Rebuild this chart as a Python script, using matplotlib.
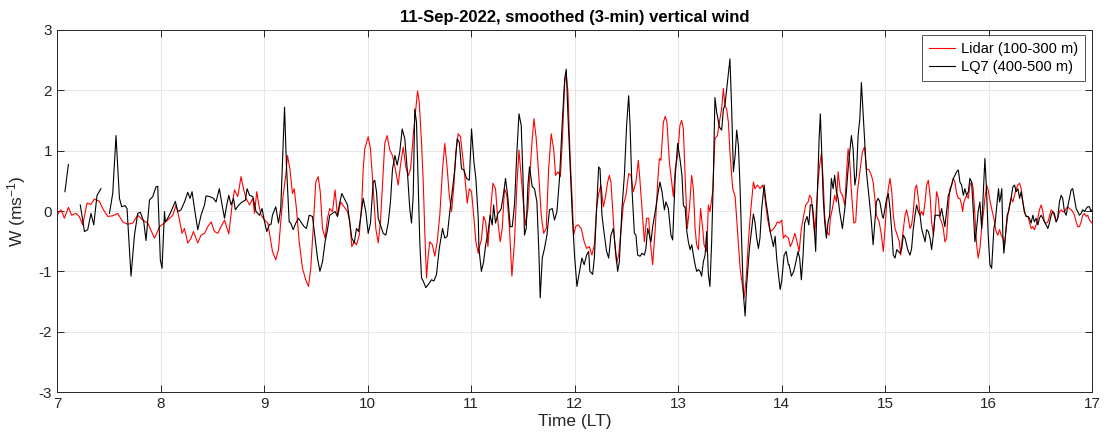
import numpy as np
import matplotlib as mpl
import matplotlib.pyplot as plt

mpl.use('Agg')

# (minutes after 07:00 LT, W in m/s)
lidar_pts = [
    (0, -0.07), (2.3, 0.02), (4.3, -0.12), (6.6, 0.06), (8.5, -0.07), (11, -0.04), (12.9, -0.09),
    (14.9, -0.23), (17.4, 0.13), (19.7, 0.11), (21.7, 0.2), (24.6, 0.16), (26.5, 0.04), (29.4, -0.09),
    (32.3, -0.08), (35.2, -0.04), (38.1, -0.18), (41, -0.22), (43.9, -0.2), (46.8, -0.07), (49.7, -0.15),
    (52.6, -0.2), (56.5, -0.45),
    (57.4, -0.40), (59.4, -0.26), (61.3, -0.22), (64.2, -0.15), (67.1, -0.07), (69.0, 0.10), (70.6, -0.09),
    (72.5, -0.37), (73.9, -0.29), (75.8, -0.53), (77.7, -0.45), (79.1, -0.34), (81.6, -0.53), (83.5, -0.40),
    (85.5, -0.37), (87.4, -0.26), (89.3, -0.18), (91.3, -0.34), (93.2, -0.37), (95.1, -0.26), (97.1, -0.15),
    (99.6, -0.38), (101.5, 0.10), (102.9, 0.35), (104.8, 0.24), (106.7, 0.57), (108.1, 0.37), (109.6, 0.21),
    (111.6, 0.10), (113.5, 0.21), (114.5, -0.04), (115.8, 0.32), (117.0, 0.10), (118.3, -0.07), (120.3, -0.15),
    (122.2, -0.20),
    (124.9, -0.67), (126.8, -0.81), (128.4, -0.64), (129.7, -0.18), (131.1, 0.26), (132.6, 0.59), (133.6, 0.92),
    (135.0, 0.70), (136.5, 0.29), (137.5, 0.37), (138.8, 0.04), (140.4, -0.51), (142.3, -0.95), (144.2, -1.14),
    (145.8, -1.25), (147.1, -0.95), (148.5, -0.29), (150.0, 0.48), (151.4, 0.57), (152.6, 0.32), (153.9, -0.29),
    (155.4, -0.45), (156.8, -0.12), (158.1, 0.04), (159.7, -0.01), (161.2, 0.35), (162.6, -0.09), (164.5, 0.15),
    (166.4, 0.07), (168.4, -0.01), (169.7, -0.18), (170.9, -0.59), (172.3, -0.51), (173.6, -0.56), (175.2, -0.40),
    (176.7, 0.15),
    (177.5, 0.70), (178.4, 1.03), (180.4, 1.23), (181.7, 1.03), (183.3, 0.37), (184.8, -0.29), (186.2, -0.53),
    (187.5, -0.18), (188.7, 0.43), (190.0, 1.12), (191.4, 1.25), (192.9, 1.01), (194.5, 0.92), (195.9, 0.73),
    (197.8, 0.43), (199.1, 0.76), (200.7, 1.06), (202.2, 0.73), (203.6, 0.59), (205.0, 0.70), (206.5, 1.25),
    (208.0, 1.69), (209.0, 1.99), (210.0, 1.80), (211.3, 1.14), (212.3, 0.48), (213.2, -0.34), (214.2, -1.11),
    (215.2, -0.73), (216.1, -0.51), (217.6, -0.56), (219.0, -0.75), (220.4, -0.51), (221.9, -0.07), (223.5, 0.70),
    (224.8, 1.12), (226.2, 0.70), (227.4, 0.26), (228.7, -0.01), (230.1, 0.43), (231.2, 0.98), (232.6, 1.28),
    (233.9, 1.23), (235.1, 0.92), (236.5, 0.54), (237.8, 0.13), (239.0, 0.37), (240.3, 0.32), (241.7, -0.12),
    (242.8, -0.51), (244.2, -0.70),
    (244.6, -0.62), (246.0, -0.48), (247.3, -0.09), (248.5, -0.18), (249.8, -0.59), (251.1, -0.07), (252.7, 0.46),
    (254.2, 0.37), (255.6, -0.18), (256.9, -0.51), (258.1, -0.29), (259.4, 0.37), (260.8, 0.26), (262.3, -0.29),
    (263.7, -1.08), (265.2, -0.51), (266.6, 0.43), (267.8, 1.01), (268.7, 0.70), (270.1, 0.21), (271.6, -0.23),
    (273.0, 0.04), (274.3, 0.70), (275.5, 1.20), (276.5, 1.53), (277.8, 1.20), (279.4, 0.54), (280.7, -0.07),
    (282.1, -0.37), (283.6, -0.29), (285.0, 0.70), (286.5, 1.28), (287.9, 1.03), (289.0, 0.59), (290.4, 0.65),
    (291.8, 0.57), (292.9, 1.14), (294.3, 2.13), (295.2, 2.27), (296.2, 1.97), (297.5, 0.87), (298.7, 0.15),
    (299.5, -0.40), (300.6, -0.26), (302.0, -0.23), (303.9, -0.29),
    (305.6, -0.51), (307.0, -0.62), (308.6, -0.59), (310.1, -0.73), (311.5, -0.56), (312.8, 0.04), (314.0, 0.29),
    (315.3, 0.43), (316.7, 0.07), (317.8, 0.21), (319.2, 0.48), (320.2, 0.59), (321.1, 0.48), (322.1, 0.04),
    (323.5, -0.62), (324.4, -0.86), (325.6, -0.73), (327.0, -0.29), (328.3, 0.10), (329.8, 0.26), (331.4, 0.62),
    (332.7, 0.59), (334.1, 0.32), (335.6, 0.48), (337.0, 0.84), (338.0, 0.48), (339.1, 0.04), (340.5, -0.51),
    (341.8, -0.12), (343.0, -0.12), (343.9, -0.51), (345.3, -0.89), (346.8, -0.29), (348.2, 0.48), (349.2, 0.87),
    (350.1, 0.84), (351.5, 1.47), (352.6, 1.57), (353.6, 1.47), (355.0, 0.81), (356.5, 0.43), (357.3, 0.24),
    (358.4, 0.70), (359.8, 0.92),
    (361.1, 1.42), (362.1, 1.50), (363.1, 1.36), (364.1, 0.59), (365.4, -0.29), (366.6, 0.04), (367.9, 0.59),
    (368.9, 0.37), (369.9, -0.29), (370.8, -0.56), (371.8, -0.64), (373.1, 0.04), (374.3, -0.29), (375.1, -0.56),
    (376.6, -0.67), (377.6, 0.10), (378.5, -0.01), (380.1, 0.32), (381.4, 1.20), (382.8, 1.25), (384.3, 1.53),
    (385.3, 1.69), (386.3, 2.03), (387.2, 1.75), (388.2, 1.69), (389.2, 1.47), (390.1, 0.98), (391.7, 0.37),
    (393.1, 0.24), (394.4, -0.29), (396.0, -0.95), (397.5, -1.27), (398.3, -1.44), (399.4, -1.16), (400.8, -0.51),
    (402.1, -0.01), (403.7, 0.48), (404.6, 0.37), (406.0, 0.43), (407.5, 0.37), (409.1, 0.43), (410.4, 0.21),
    (411.8, -0.12), (413.4, -0.34), (414.9, -0.31), (416.3, -0.26), (417.6, -0.18), (418.8, -0.20), (420.1, -0.15),
    (421.1, -0.45), (422.1, -0.40), (424.0, -0.45),
    (425.1, -0.59), (426.3, -0.51), (427.7, -0.37), (429.0, -0.51), (430.2, -0.67), (431.5, -0.29), (432.9, -0.07),
    (434.0, 0.10), (435.4, 0.15), (436.3, 0.26), (437.3, 0.21), (438.3, -0.12), (439.2, -0.40), (440.2, 0.04),
    (441.2, 0.48), (442.1, 0.76), (443.1, 0.95), (444.1, 0.54), (445.0, -0.07), (446.0, -0.34), (447.6, -0.40),
    (448.3, -0.12), (449.5, 0.04), (450.8, 0.26), (451.8, 0.15), (452.8, 0.65), (454.1, 0.32), (455.3, 0.26),
    (456.7, 0.10), (457.6, 0.59), (458.6, 1.03), (459.6, 0.81), (460.5, 0.32), (461.9, -0.20), (463.0, -0.18),
    (464.0, 0.32), (465.4, 0.65), (466.9, 0.98), (468.1, 1.06), (469.2, 0.70), (470.8, 0.68), (472.1, 0.59),
    (473.1, 0.48), (474.1, 0.21), (475.0, -0.07), (476.6, -0.18), (477.9, -0.40),
    (479.0, -0.67), (480.0, -0.29), (481.0, 0.15), (481.9, 0.37), (482.9, 0.54), (483.9, 0.32), (484.8, -0.07),
    (485.8, -0.29), (487.1, -0.40), (488.3, -0.51), (489.1, -0.73), (490.2, -0.40), (491.6, -0.07), (492.5, 0.02),
    (493.5, -0.12), (494.5, -0.29), (495.4, -0.23), (496.4, -0.01), (497.4, 0.37), (498.3, 0.43), (499.3, 0.21),
    (500.3, -0.07), (501.2, -0.01), (502.2, -0.07), (503.2, 0.15), (504.1, 0.43), (505.1, 0.51), (506.1, 0.26),
    (507.0, -0.18), (508.0, -0.40), (509.0, -0.07), (509.9, 0.32), (510.9, 0.21), (511.8, -0.12), (512.8, -0.18),
    (513.8, -0.29), (514.7, -0.51), (515.7, -0.45), (516.7, 0.04), (517.6, 0.37), (518.6, 0.43), (519.6, 0.54),
    (520.5, 0.48), (521.5, 0.29), (522.5, 0.21), (523.4, 0.21), (524.4, 0.10), (525.0, -0.01), (525.7, 0.15),
    (527.3, 0.26), (528.3, 0.21), (529.2, 0.43), (530.2, 0.48), (531.1, 0.37), (532.1, -0.07), (533.1, -0.56),
    (534.0, -0.78), (535.0, -0.62), (536.0, -0.29), (536.9, -0.07), (537.9, 0.21), (538.9, 0.43), (539.8, 0.35),
    (540.8, 0.18), (541.8, 0.04),
    (543.5, -0.18), (544.4, -0.34), (545.4, -0.40), (546.4, -0.31), (547.3, -0.40), (548.3, -0.45), (549.3, -0.56),
    (550.2, -0.29), (551.2, -0.07), (552.2, 0.10), (553.1, 0.21), (554.1, 0.15), (555.1, 0.26), (556.0, 0.37),
    (557.0, 0.43), (558.0, 0.46), (558.9, 0.37), (559.9, 0.15), (560.8, -0.01), (561.8, -0.09), (562.8, -0.09),
    (563.7, -0.18), (564.7, -0.29), (565.7, -0.26), (566.6, -0.31), (567.6, -0.23), (568.6, -0.12), (569.5, 0.02),
    (570.5, 0.10), (571.5, -0.01), (572.4, -0.18), (573.4, -0.20), (574.4, -0.18), (575.3, -0.09), (576.3, 0.02),
    (577.2, -0.01), (578.2, -0.09), (579.2, -0.18), (580.1, -0.12), (581.1, -0.01), (582.1, 0.02), (583.0, -0.01),
    (584.0, -0.01), (585.0, 0.04), (585.9, 0.07), (586.9, 0.04), (587.9, 0.02), (588.8, -0.01), (589.8, -0.07),
    (590.8, -0.18), (591.7, -0.26), (592.7, -0.26), (593.7, -0.18), (594.6, -0.07), (595.6, -0.04), (596.6, -0.09),
    (597.5, -0.07), (598.5, -0.15), (599.4, -0.18), (600.0, -0.20),
]

nan = float('nan')
lq7_pts = [
    (4.6, 0.32), (6.6, 0.77), (7.0, nan),
    (13.5, 0.10), (15.9, -0.34), (17.8, -0.31), (19.7, -0.04), (21.3, -0.23), (23.2, 0.26), (25.5, 0.37),
    (27.0, nan),
    (30.4, -0.04), (32.3, 0.29), (34.2, 1.25), (36.2, 0.21), (37.5, 0.07), (39.4, 0.09), (40.6, 0.04),
    (42.9, -1.08), (44.9, -0.40), (46.8, -0.04), (48.3, -0.02), (50.3, -0.18), (51.6, -0.49), (53.6, 0.18),
    (55.5, 0.24), (57.4, 0.40), (58.4, 0.41), (59.9, -0.81), (60.9, -0.95), (62.3, -0.01),
    (62.8, -0.18), (64.2, -0.12), (66.1, -0.01), (68.6, 0.16), (70.0, -0.01), (71.9, 0.02), (73.9, 0.15),
    (75.8, 0.31), (77.1, 0.21), (78.3, 0.32), (79.7, 0.04), (81.6, -0.31), (83.5, -0.07), (85.5, 0.10),
    (86.4, 0.25), (88.4, 0.24), (90.7, 0.21), (92.2, 0.15), (94.1, 0.37), (95.7, 0.10), (97.1, -0.12),
    (98.4, 0.10), (99.6, 0.26), (100.9, 0.10), (102.3, 0.21), (103.4, 0.02), (105.4, 0.10), (107.3, 0.15),
    (109.2, 0.18), (110.2, 0.37), (111.6, 0.26), (113.5, 0.24), (115.4, -0.01), (117.4, -0.07), (118.9, 0.04),
    (120.3, -0.18), (121.6, -0.34), (123.2, -0.22), (124.1, -0.22),
    (124.9, -0.07), (126.8, 0.07), (128.4, -0.20), (129.7, 0.04), (131.1, 1.14), (131.9, 1.72), (133.0, 0.76),
    (134.6, -0.18), (135.5, -0.20), (136.9, -0.31), (138.4, -0.20), (140.0, -0.12), (141.3, -0.18), (143.3, -0.26),
    (144.6, -0.29), (146.2, -0.07), (148.1, -0.09), (149.6, -0.45), (151.0, -0.78), (152.4, -1.00), (153.9, -0.84),
    (155.4, -0.51), (156.8, -0.31), (158.1, -0.07), (159.7, -0.04), (161.2, -0.01), (162.6, -0.09), (163.6, 0.10),
    (165.1, 0.29), (166.5, 0.21), (168.4, 0.10), (169.7, -0.18), (170.9, -0.45), (172.3, -0.53), (173.6, -0.29),
    (174.8, -0.34), (176.1, -0.09),
    (177.5, 0.21), (179.0, -0.01), (180.4, -0.37), (181.7, -0.20), (183.3, 0.48), (184.2, 0.51), (185.2, 0.32),
    (186.2, -0.12), (187.5, -0.23), (189.1, -0.37), (190.6, -0.40), (192.0, -0.20), (193.3, 0.15), (194.5, 0.70),
    (195.9, 0.92), (197.2, 0.76), (198.7, 0.98), (200.1, 1.36), (201.6, 1.20), (203.0, 0.70), (204.5, 0.04),
    (205.5, -0.20), (206.5, 0.26), (207.4, 1.69), (208.4, 1.47), (209.4, 0.43), (210.3, -0.51), (211.3, -1.11),
    (212.3, -1.16), (213.8, -1.27), (215.2, -1.22), (217.1, -1.14), (218.5, -1.16), (220.0, -1.05), (221.6, -0.62),
    (223.5, -0.29), (224.8, -0.45), (226.2, -0.42), (227.7, -0.01), (229.3, 0.37), (230.6, 0.70), (232.0, 1.20),
    (233.2, 1.14), (234.5, 0.70), (235.9, 0.68), (237.4, 0.54), (239.0, 0.51), (240.3, 1.36), (241.7, 0.81),
    (242.8, 0.54), (244.2, -0.12),
    (244.6, -0.62), (246.0, -1.00), (247.3, -0.84), (248.5, -0.56), (249.8, -0.37), (251.1, -0.07), (252.3, -0.23),
    (253.1, 0.10), (254.2, -0.20), (255.6, -0.04), (256.5, -0.01), (257.5, 0.04), (258.9, 0.29), (260.0, 0.54),
    (261.4, 0.21), (262.7, -0.26), (263.9, -0.26), (265.2, 0.10), (266.6, 0.98), (267.8, 1.61), (269.1, 1.42),
    (270.1, 0.59), (271.0, -0.40), (272.0, -0.29), (273.0, 0.43), (273.9, 0.73), (275.5, 0.40), (276.8, 0.37),
    (278.2, 0.15), (279.4, -0.73), (280.1, -1.44), (281.3, -0.78), (282.6, -0.62), (284.0, -0.40), (285.5, 0.02),
    (287.1, 0.04), (288.4, -0.15), (289.8, -0.01), (291.3, 0.54), (292.9, 1.47), (294.3, 2.19), (295.2, 2.35),
    (296.2, 1.58), (297.5, 0.70), (298.7, -0.07), (300.0, -0.73), (301.4, -1.25), (302.9, -1.00), (303.9, -0.84),
    (304.3, -0.78), (305.6, -0.89), (307.0, -0.73), (308.2, -0.67), (308.9, -1.00), (310.5, -1.05), (311.5, -0.78),
    (312.8, 0.04), (314.0, 0.73), (314.8, 0.70), (315.9, -0.07), (317.3, -0.40), (318.6, -0.67), (319.8, -0.78),
    (321.1, -0.40), (322.5, -0.29), (323.7, -0.62), (325.0, -1.00), (326.0, -0.84), (327.5, 0.04), (328.9, 0.59),
    (330.2, 1.42), (331.4, 1.91), (332.2, 1.42), (333.3, 0.37), (334.7, -0.37), (335.6, -0.40), (336.6, -0.73),
    (338.0, -0.75), (339.1, -0.70), (340.5, -0.73), (341.4, -0.62), (342.4, -0.29), (343.4, -0.40), (344.3, -0.51),
    (345.3, -0.26), (346.8, -0.01), (348.2, 0.26), (349.5, 0.48), (350.7, 0.32), (352.1, 0.02), (353.0, 0.15),
    (354.4, 0.04), (355.9, -0.40), (356.9, -0.48), (358.4, 0.59), (359.8, 1.12), (361.1, 0.87), (362.3, 0.59),
    (363.1, 0.10), (363.7, 0.07),
    (364.1, 0.07), (365.1, -0.34), (366.0, -0.51), (367.0, -0.64), (368.0, -0.56), (368.9, -0.73), (369.9, -0.89),
    (370.8, -1.00), (371.8, -0.97), (372.8, -1.00), (373.7, -1.08), (374.7, -0.84), (375.7, -0.73), (376.6, -0.34),
    (377.6, -1.05), (378.5, -1.25), (379.5, -0.51), (380.5, 0.59), (381.4, 1.88), (382.4, 1.64), (384.0, 1.39),
    (385.3, 1.34), (386.3, 1.69), (387.2, 1.75), (388.2, 2.02), (389.2, 2.30), (390.1, 2.52), (391.1, 1.69),
    (392.1, 0.65), (393.1, 0.92), (394.0, 1.34), (395.0, 1.09), (396.0, 0.37), (396.9, -0.51), (397.9, -1.38),
    (398.9, -1.74), (399.8, -1.22), (401.4, -0.62), (402.7, -0.29), (403.7, -0.05), (404.6, -0.18), (405.6, -0.45),
    (406.6, -0.62), (407.5, -0.45), (408.5, 0.04), (409.9, 0.43), (411.0, 0.15), (412.4, -0.12), (413.4, -0.34),
    (414.3, -0.45), (415.3, -0.59), (416.3, -0.42), (417.2, -0.78), (418.2, -1.05), (419.2, -1.30), (420.1, -1.16),
    (421.5, -0.73), (422.7, -0.67), (424.0, -0.89),
    (424.4, -0.89), (425.7, -1.08), (427.1, -1.00), (428.2, -0.86), (429.6, -0.67), (430.5, -0.78), (431.5, -1.14),
    (432.5, -0.73), (433.4, -0.20), (434.8, -0.09), (435.8, -0.23), (436.7, 0.10), (437.9, 0.10), (438.8, -0.18),
    (439.8, -0.67), (440.6, 0.15), (441.8, 1.20), (442.5, 1.61), (443.3, 0.98), (444.1, 0.26), (445.0, -0.18),
    (446.0, -0.45), (447.0, -0.18), (447.9, -0.07), (448.9, 0.54), (449.9, 0.37), (450.8, 0.59), (451.8, 0.32),
    (452.8, 0.21), (453.7, -0.01), (455.3, -0.29), (456.7, 0.04), (457.6, 0.32), (458.6, 0.70), (459.6, 0.98),
    (460.5, 1.25), (461.5, 1.03), (462.5, 0.43), (463.4, 0.59), (464.4, 1.25), (465.4, 1.53), (466.3, 2.13),
    (467.7, 1.42), (469.2, 0.65), (470.8, 0.21), (472.1, -0.18), (473.1, -0.56), (474.1, -0.18), (475.0, 0.15),
    (476.0, 0.21), (477.0, 0.15), (478.5, -0.09),
    (479.0, -0.12), (480.0, 0.04), (481.0, 0.21), (481.9, 0.29), (482.9, 0.04), (483.9, -0.34), (484.8, -0.73),
    (485.8, -0.78), (486.8, -0.64), (487.7, -0.67), (488.7, -0.70), (489.7, -0.62), (490.6, -0.40), (491.6, -0.45),
    (492.5, -0.56), (493.5, -0.67), (494.5, -0.73), (495.4, -0.62), (496.4, -0.29), (497.4, -0.07), (498.3, 0.10),
    (499.3, -0.01), (500.3, -0.07), (501.2, -0.29), (502.2, -0.40), (503.2, -0.51), (504.1, -0.31), (505.1, -0.34),
    (506.1, -0.45), (507.0, -0.64), (508.0, -0.40), (509.0, -0.07), (509.9, -0.07), (510.9, -0.07), (511.8, -0.09),
    (512.8, 0.04), (513.8, -0.12), (514.7, -0.26), (515.7, -0.01), (516.7, 0.26), (517.6, 0.32), (518.6, 0.43),
    (519.6, 0.54), (520.5, 0.59), (521.5, 0.65), (522.5, 0.68), (523.4, 0.48), (524.4, 0.43), (525.4, 0.26),
    (526.3, 0.37), (527.3, 0.26), (528.3, 0.32), (529.2, 0.54), (530.2, 0.48), (531.1, 0.04), (532.1, -0.51),
    (533.1, -0.29), (534.0, -0.01), (535.0, 0.15), (536.0, -0.29), (536.9, 0.26), (537.9, 0.87), (538.9, 0.32),
    (539.8, -0.40), (540.8, -0.89), (541.8, -0.95),
    (543.1, -0.29), (543.9, -0.18), (545.0, 0.15), (545.8, 0.37), (546.4, 0.15), (546.9, 0.21), (547.7, 0.37),
    (548.3, -0.40), (548.9, -0.70), (549.7, -0.45), (550.8, -0.07), (551.6, -0.01), (552.7, 0.15), (554.1, 0.40),
    (555.1, 0.43), (556.0, 0.32), (557.0, 0.37), (558.0, 0.21), (558.9, 0.32), (559.9, 0.15), (560.8, -0.01),
    (561.8, -0.09), (562.8, -0.09), (563.7, -0.12), (564.7, -0.20), (565.7, -0.07), (566.6, -0.18), (567.6, -0.12),
    (568.6, -0.23), (569.5, -0.12), (570.5, -0.07), (571.5, -0.12), (572.4, -0.18), (573.4, -0.23), (574.4, -0.29),
    (575.3, -0.20), (576.3, -0.07), (577.2, -0.01), (578.2, -0.04), (579.2, -0.18), (580.1, -0.12), (581.1, 0.15),
    (582.1, 0.26), (583.0, 0.21), (584.0, -0.01), (585.0, -0.07), (585.9, 0.07), (586.9, 0.21), (587.9, 0.35),
    (588.8, 0.37), (589.8, 0.21), (590.8, 0.04), (591.7, -0.01), (592.7, -0.07), (593.7, -0.04), (594.6, 0.02),
    (595.6, -0.01), (596.6, 0.04), (597.5, 0.07), (598.5, 0.07), (599.4, -0.01), (600.0, 0.02),
]

x_ticks = list(range(7, 18))
y_ticks = [-3, -2, -1, 0, 1, 2, 3]

plt.rcParams['font.family'] = ['Liberation Sans', 'DejaVu Sans']
plt.rcParams['axes.unicode_minus'] = False
plt.rcParams['mathtext.default'] = 'regular'

t_lid = 7 + np.array([p[0] for p in lidar_pts]) / 60
w_lid = np.array([p[1] for p in lidar_pts])
t_lq7 = 7 + np.array([p[0] for p in lq7_pts]) / 60
w_lq7 = np.array([p[1] for p in lq7_pts])

fig = plt.figure(figsize=(11.09, 4.43), dpi=100)
ax = fig.add_axes([0.0514, 0.1151, 0.9333, 0.8172])

ax.plot(t_lid, w_lid, color='#ff0000', lw=0.8, label='Lidar (100-300 m)')
ax.plot(t_lq7, w_lq7, color='black', lw=0.8, label='LQ7 (400-500 m)')

ax.set_xlim(7, 17)
ax.set_ylim(-3, 3)
ax.set_xticks(x_ticks)
ax.set_yticks(y_ticks)
ax.grid(True, color='#e6e6e6', lw=0.7)
ax.set_axisbelow(True)
ax.tick_params(direction='in', length=5, top=True, right=True, labelsize=11,
               colors='#262626', width=0.7)
for s in ax.spines.values():
    s.set_color('#262626')
    s.set_linewidth(0.7)

ax.set_title('11-Sep-2022, smoothed (3-min) vertical wind', fontsize=12,
             fontweight='bold', color='black', pad=6)
ax.set_xlabel('Time (LT)', fontsize=12.5, color='#262626', labelpad=2)
ax.set_ylabel('W (ms$^{-1}$)', fontsize=12.5, color='#262626', labelpad=8)

leg = ax.legend(loc='upper right', fontsize=10.5, frameon=True, fancybox=False,
                handlelength=1.8, borderpad=0.45, labelspacing=0.3,
                handletextpad=0.4, borderaxespad=0,
                bbox_to_anchor=(0.993, 0.986))
leg.get_frame().set_edgecolor('#262626')
leg.get_frame().set_linewidth(0.7)

fig.savefig('out.png', dpi=100)
